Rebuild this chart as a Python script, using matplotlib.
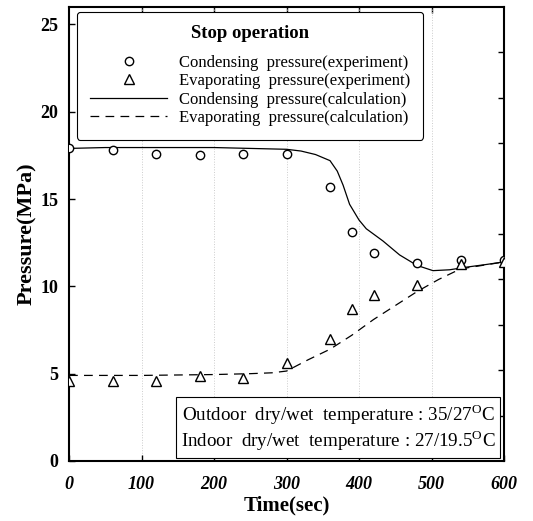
import matplotlib
matplotlib.use('Agg')
import matplotlib.pyplot as plt
import numpy as np

# experiment points
time_exp = [0, 60, 120, 180, 240, 300, 360, 390, 420, 480, 540, 600]
cond_exp = [17.9, 17.8, 17.6, 17.5, 17.6, 17.6, 15.7, 13.1, 11.9, 11.35, 11.5, 11.5]
evap_exp = [4.6, 4.6, 4.6, 4.85, 4.75, 5.6, 7.0, 8.7, 9.5, 10.05, 11.3, 11.4]

# calculation curves
time_cond_calc = [0, 50, 100, 150, 200, 250, 300, 320, 340, 360, 370, 378, 387,
                  400, 410, 433, 456, 480, 502, 525, 548, 575, 600]
cond_calc = [17.9, 17.95, 17.95, 17.95, 17.95, 17.9, 17.85, 17.75, 17.55, 17.2,
             16.6, 15.8, 14.7, 13.8, 13.3, 12.6, 11.8, 11.2, 10.9, 10.95, 11.1,
             11.25, 11.4]
time_evap_calc = [0, 100, 200, 250, 280, 300, 330, 360, 390, 420, 450, 480, 510,
                  540, 570, 600]
evap_calc = [4.9, 4.9, 4.95, 5.0, 5.05, 5.15, 5.8, 6.4, 7.2, 8.1, 8.9, 9.7, 10.4,
             11.0, 11.2, 11.4]

plt.rcParams['font.family'] = ['Liberation Serif', 'DejaVu Serif']
plt.rcParams['mathtext.fontset'] = 'custom'
plt.rcParams['mathtext.rm'] = 'Liberation Serif'

fig = plt.figure(figsize=(5.33, 5.21), dpi=100)
ax = fig.add_axes([0.1295, 0.1152, 0.8161, 0.8714])

ax.plot(time_exp, cond_exp, 'o', mfc='white', mec='black', ms=6, mew=1,
        label='Condensing  pressure(experiment)', zorder=3)
ax.plot(time_exp, evap_exp, '^', mfc='white', mec='black', ms=6.5, mew=1,
        label='Evaporating  pressure(experiment)', zorder=3)
ax.plot(time_cond_calc, cond_calc, '-', color='black', lw=0.9,
        label='Condensing  pressure(calculation)')
ax.plot(time_evap_calc, evap_calc, '--', color='black', lw=0.9, dashes=(7, 5),
        label='Evaporating  pressure(calculation)')

ax.set_xlim(0, 600)
ax.set_ylim(0, 26)
ax.set_xticks(range(0, 601, 100))
ax.set_yticks(range(0, 26, 5))
ax.tick_params(direction='in', length=4, width=1, top=False, right=False)
ax.tick_params(axis='x', pad=10.5)
ax.tick_params(axis='y', pad=7.8)
for lab in ax.get_xticklabels():
    lab.set_fontweight('bold')
    lab.set_fontstyle('italic')
    lab.set_fontsize(13)
for lab in ax.get_yticklabels():
    lab.set_fontweight('bold')
    lab.set_fontsize(13)

# unlabelled ticks on the top and right frame
ax_top = ax.secondary_xaxis('top')
ax_top.set_xticks(range(100, 600, 100))
ax_top.tick_params(direction='in', length=4, width=1, labeltop=False)
ax_right = ax.secondary_yaxis('right')
ax_right.set_yticks(np.arange(1, 10) * 2.6)
ax_right.tick_params(direction='in', length=4, width=1, labelright=False)
for s in ax_top.spines.values():
    s.set_visible(False)
for s in ax_right.spines.values():
    s.set_visible(False)

for s in ax.spines.values():
    s.set_linewidth(1.5)

ax.grid(axis='x', color='#cccccc', ls=':', lw=0.7)

ax.set_xlabel('Time(sec)', fontsize=15, fontweight='bold', labelpad=2)
ax.set_ylabel('Pressure(MPa)', fontsize=16, fontweight='bold', labelpad=2)

leg = ax.legend(loc='upper left', bbox_to_anchor=(0.018, 0.989), fontsize=12,
                title='Stop operation', title_fontproperties={'weight': 'bold', 'size': 13.5},
                handlelength=4.6, handletextpad=0.7, borderpad=0.8, labelspacing=0.15,
                borderaxespad=0, fancybox=True, framealpha=1, edgecolor='black')
leg.get_frame().set_linewidth(0.8)
leg._legend_box.sep = 9

ax.text(0.98, 0.017,
        'Outdoor  dry/wet  temperature : 35/27$^{\\rm O}$C\n'
        'Indoor  dry/wet  temperature : 27/19.5$^{\\rm O}$C',
        transform=ax.transAxes, ha='right', va='bottom', fontsize=13.7,
        linespacing=1.1,
        bbox=dict(boxstyle='square,pad=0.25', fc='white', ec='black', lw=0.8))

fig.savefig('out.png', dpi=100)
